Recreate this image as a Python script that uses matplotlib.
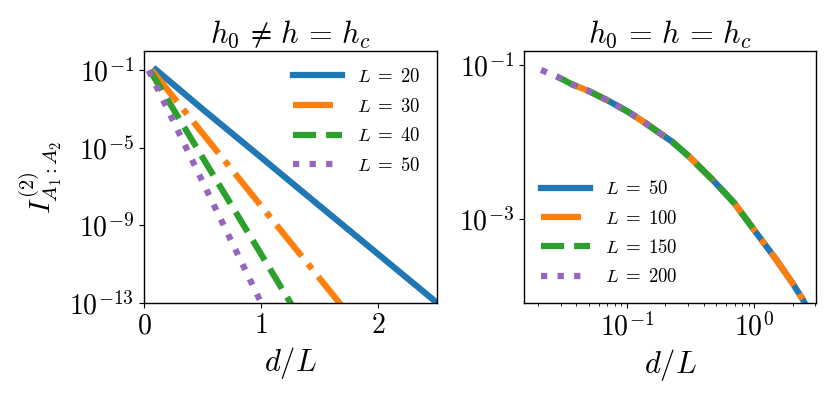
import matplotlib
matplotlib.use("Agg")
import matplotlib.pyplot as plt
import matplotlib.ticker as mticker

plt.rcParams['mathtext.fontset'] = 'cm'
plt.rcParams['font.family'] = 'serif'
plt.rcParams['font.serif'] = ['cmr10', 'DejaVu Serif']
plt.rcParams['axes.formatter.use_mathtext'] = True
plt.rcParams['axes.unicode_minus'] = False

# left panel: h0 != h = hc  (d/L, I2)
L_left = [20, 30, 40, 50]
x20 = [0.1, 0.5, 1.0, 1.5, 2.0, 2.6]
y20 = [1.1e-1, 1e-3, 3.2e-6, 1e-8, 3.2e-11, 3.2e-14]
x30 = [0.067, 0.5, 1.0, 1.5, 1.8]
y30 = [1e-1, 5.6e-5, 1e-8, 1.8e-12, 1e-14]
x40 = [0.05, 0.5, 1.0, 1.4]
y40 = [1e-1, 3.2e-6, 3.2e-11, 3.2e-15]
x50 = [0.04, 0.5, 1.0, 1.1]
y50 = [1e-1, 1.8e-7, 1e-13, 5.6e-15]

# right panel: h0 = h = hc, collapsed curve
L_right = [50, 100, 150, 200]
xc = [0.0211, 0.0279, 0.0307, 0.0368, 0.0499, 0.0718, 0.1031, 0.1396, 0.1888,
      0.225, 0.307, 0.469, 0.695, 0.970, 1.483, 2.005, 2.404, 2.48]
yc = [0.0861, 0.071, 0.0658, 0.0561, 0.0459, 0.0340, 0.0243, 0.0175, 0.01233,
      0.0101, 0.00644, 0.00321, 0.00160, 0.000757, 0.000294, 0.000143, 8.87e-5, 8.0e-5]
# index ranges covered by each L
ranges = {50: (5, 18), 100: (3, 18), 150: (1, 14), 200: (0, 10)}

colors = ['#1f77b4', '#ff7f0e', '#2ca02c', '#9467bd']
styles = ['-', '-.', '--', ':']
lw = 4.5

fig = plt.figure(figsize=(8.31, 3.96), dpi=100)
ax1 = fig.add_axes([0.1733, 0.2348, 0.3527, 0.6364])
ax2 = fig.add_axes([0.6306, 0.2348, 0.3514, 0.6364])

left_data = [(x20, y20), (x30, y30), (x40, y40), (x50, y50)]
for (xs, ys), L, c, ls in zip(left_data, L_left, colors, styles):
    ax1.plot(xs, ys, color=c, ls=ls, lw=lw, label=r'$L \;=\; %d$' % L)
ax1.set_yscale('log')
ax1.set_xlim(0, 2.5)
ax1.set_ylim(1e-13, 1)
ax1.set_xticks([0, 1, 2])
ax1.yaxis.set_major_locator(mticker.FixedLocator([1e-1, 1e-5, 1e-9, 1e-13]))
ax1.yaxis.set_minor_locator(mticker.NullLocator())
ax1.set_xlabel(r'$d/L$', fontsize=22)
ax1.set_ylabel(r'$I^{(2)}_{A_1:A_2}$', fontsize=21)
ax1.set_title(r'$h_0 \,\neq\, h \,=\, h_c$', fontsize=22)
ax1.legend(loc='upper right', frameon=False, fontsize=13.5, handlelength=2.6,
           labelspacing=0.62)

for L, c, ls in zip(L_right, colors, styles):
    i0, i1 = ranges[L]
    ax2.plot(xc[i0:i1], yc[i0:i1], color=c, ls=ls, lw=lw, label=r'$L \;=\; %d$' % L)
ax2.set_xscale('log')
ax2.set_yscale('log')
ax2.set_xlim(0.0155, 3.05)
ax2.set_ylim(8e-5, 0.152)
ax2.yaxis.set_major_locator(mticker.FixedLocator([1e-1, 1e-3]))
ax2.yaxis.set_minor_locator(mticker.NullLocator())
ax2.set_xlabel(r'$d/L$', fontsize=22)
ax2.set_title(r'$h_0 \,=\, h \,=\, h_c$', fontsize=22)
ax2.legend(loc='lower left', frameon=False, fontsize=13.5, handlelength=2.6,
           labelspacing=0.6)

for ax in (ax1, ax2):
    ax.tick_params(labelsize=20)
    for s in ax.spines.values():
        s.set_linewidth(1.0)

fig.savefig('out.png', dpi=100)
